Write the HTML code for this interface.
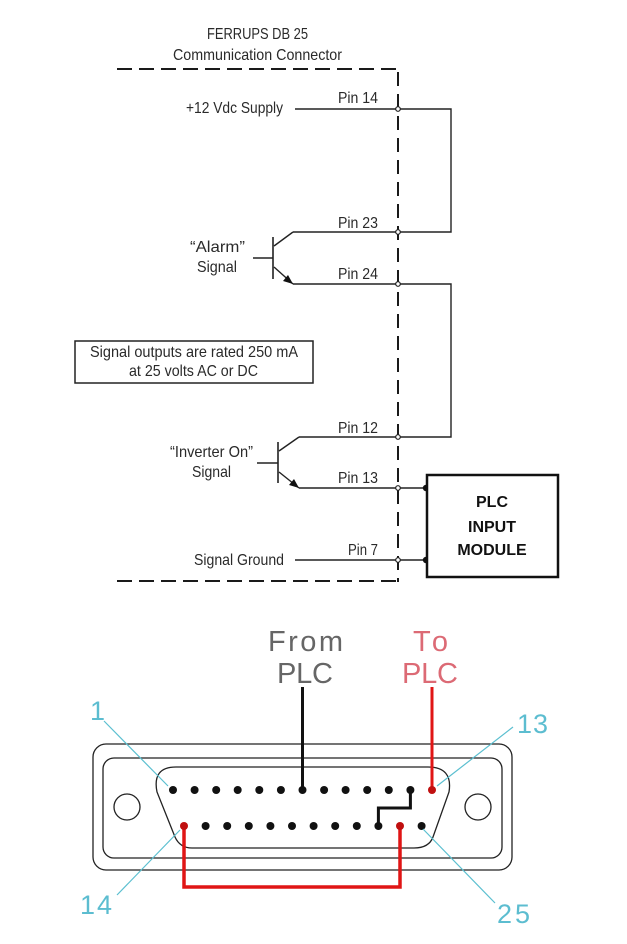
<!DOCTYPE html>
<html><head><meta charset="utf-8"><style>
html,body{margin:0;padding:0;background:#fff;}
svg{display:block;}
.t{font-family:"Liberation Sans",sans-serif;font-size:16px;fill:#2a2a2a;}
.b{font-family:"Liberation Sans",sans-serif;font-size:16px;font-weight:bold;fill:#111;}
.c{font-family:"Liberation Sans",sans-serif;font-size:27px;fill:#5cbdd0;}
.f{font-family:"Liberation Sans",sans-serif;font-size:29px;}
</style></head><body>
<svg width="627" height="944" viewBox="0 0 627 944" xmlns="http://www.w3.org/2000/svg">
<rect width="627" height="944" fill="#fff"/>
<!-- titles -->
<text class="t" x="207" y="39" textLength="101" lengthAdjust="spacingAndGlyphs">FERRUPS DB 25</text>
<text class="t" x="173" y="60" textLength="169" lengthAdjust="spacingAndGlyphs">Communication Connector</text>
<!-- dashed boundary -->
<g stroke="#1a1a1a" stroke-width="2" fill="none">
<line x1="117" y1="69" x2="396" y2="69" stroke-dasharray="15 7"/>
<line x1="117" y1="581" x2="396" y2="581" stroke-dasharray="15 7"/>
<line x1="398" y1="72" x2="398" y2="582" stroke-dasharray="14 8"/>
</g>
<!-- wires -->
<g stroke="#222" stroke-width="1.4" fill="none">
<polyline points="295,109 451,109 451,232 293,232"/>
<polyline points="293,284 451,284 451,437 299,437"/>
<line x1="299" y1="488" x2="426" y2="488"/>
<line x1="295" y1="560" x2="426" y2="560"/>
<!-- transistor 1 -->
<line x1="273" y1="237" x2="273" y2="279" stroke-width="1.6"/>
<line x1="253" y1="258" x2="273" y2="258"/>
<line x1="274" y1="246" x2="293" y2="232"/>
<line x1="274" y1="267" x2="293" y2="284"/>
<!-- transistor 2 -->
<line x1="278" y1="442" x2="278" y2="483" stroke-width="1.6"/>
<line x1="257" y1="463" x2="278" y2="463"/>
<line x1="279" y1="451" x2="299" y2="437"/>
<line x1="279" y1="472" x2="299" y2="488"/>
</g>
<polygon points="293,284 283,281 288,275" fill="#111"/>
<polygon points="299,488 289,485 294,479" fill="#111"/>
<!-- junction circles -->
<g fill="#fff" stroke="#222" stroke-width="1.2">
<circle cx="398" cy="109" r="2.3"/>
<circle cx="398" cy="232" r="2.3"/>
<circle cx="398" cy="284" r="2.3"/>
<circle cx="398" cy="437" r="2.3"/>
<circle cx="398" cy="488" r="2.3"/>
<circle cx="398" cy="560" r="2.3"/>
</g>
<circle cx="426" cy="488" r="3.2" fill="#111"/>
<circle cx="426" cy="560" r="3.2" fill="#111"/>
<!-- labels -->
<text class="t" x="186" y="113" textLength="97" lengthAdjust="spacingAndGlyphs">+12 Vdc Supply</text>
<text class="t" x="338" y="103" textLength="40" lengthAdjust="spacingAndGlyphs">Pin 14</text>
<text class="t" x="338" y="228" textLength="40" lengthAdjust="spacingAndGlyphs">Pin 23</text>
<text class="t" x="338" y="279" textLength="40" lengthAdjust="spacingAndGlyphs">Pin 24</text>
<text class="t" x="190" y="252" textLength="55" lengthAdjust="spacingAndGlyphs">“Alarm”</text>
<text class="t" x="197" y="272" textLength="40" lengthAdjust="spacingAndGlyphs">Signal</text>
<rect x="75" y="341" width="238" height="42" fill="none" stroke="#222" stroke-width="1.5"/>
<text class="t" x="90" y="357" textLength="208" lengthAdjust="spacingAndGlyphs">Signal outputs are rated 250 mA</text>
<text class="t" x="129" y="376" textLength="129" lengthAdjust="spacingAndGlyphs">at 25 volts AC or DC</text>
<text class="t" x="338" y="433" textLength="40" lengthAdjust="spacingAndGlyphs">Pin 12</text>
<text class="t" x="170" y="457" textLength="83" lengthAdjust="spacingAndGlyphs">“Inverter On”</text>
<text class="t" x="192" y="477" textLength="39" lengthAdjust="spacingAndGlyphs">Signal</text>
<text class="t" x="338" y="483" textLength="40" lengthAdjust="spacingAndGlyphs">Pin 13</text>
<text class="t" x="348" y="555" textLength="30" lengthAdjust="spacingAndGlyphs">Pin 7</text>
<text class="t" x="194" y="565" textLength="90" lengthAdjust="spacingAndGlyphs">Signal Ground</text>
<!-- PLC box -->
<rect x="427" y="475" width="131" height="102" fill="#fff" stroke="#111" stroke-width="2.5"/>
<text class="b" x="492" y="507" text-anchor="middle">PLC</text>
<text class="b" x="492" y="532" text-anchor="middle">INPUT</text>
<text class="b" x="492" y="555" text-anchor="middle">MODULE</text>

<!-- DB25 connector -->
<text class="f" x="268" y="651" fill="#666" textLength="75" lengthAdjust="spacing">From</text>
<text class="f" x="277" y="683" fill="#666" textLength="56" lengthAdjust="spacing">PLC</text>
<text class="f" x="413" y="651" fill="#dc6a75" textLength="35" lengthAdjust="spacing">To</text>
<text class="f" x="402" y="683" fill="#dc6a75" textLength="56" lengthAdjust="spacing">PLC</text>
<g fill="none" stroke="#222" stroke-width="1.3">
<rect x="93" y="744" width="419" height="126" rx="13"/>
<rect x="103" y="758" width="399" height="100" rx="11"/>
<path d="M176 767 L428 767 Q453 767 449 792 L433 837 Q429 848 414 848 L192 848 Q180 848 175 837 L157 792 Q152 767 176 767 Z"/>
<circle cx="127" cy="807" r="13"/>
<circle cx="478" cy="807" r="13"/>
</g>
<line x1="302.5" y1="687" x2="302.5" y2="790" stroke="#111" stroke-width="3"/>
<line x1="432" y1="687" x2="432" y2="790" stroke="#e01515" stroke-width="3"/>
<polyline points="410.4,790 410.4,808 378.4,808 378.4,826" fill="none" stroke="#111" stroke-width="3"/>
<polyline points="184,826 184,887 400,887 400,826" fill="none" stroke="#e01515" stroke-width="3.5"/>
<g fill="#111">
<circle cx="173" cy="790" r="4"/><circle cx="194.6" cy="790" r="4"/><circle cx="216.2" cy="790" r="4"/><circle cx="237.7" cy="790" r="4"/><circle cx="259.3" cy="790" r="4"/><circle cx="280.9" cy="790" r="4"/><circle cx="302.5" cy="790" r="4"/><circle cx="324.1" cy="790" r="4"/><circle cx="345.6" cy="790" r="4"/><circle cx="367.2" cy="790" r="4"/><circle cx="388.8" cy="790" r="4"/><circle cx="410.4" cy="790" r="4"/>
<circle cx="205.6" cy="826" r="4"/><circle cx="227.2" cy="826" r="4"/><circle cx="248.8" cy="826" r="4"/><circle cx="270.4" cy="826" r="4"/><circle cx="292" cy="826" r="4"/><circle cx="313.6" cy="826" r="4"/><circle cx="335.2" cy="826" r="4"/><circle cx="356.8" cy="826" r="4"/><circle cx="378.4" cy="826" r="4"/><circle cx="421.6" cy="826" r="4"/>
</g>
<circle cx="432" cy="790" r="4" fill="#c01010"/>
<circle cx="184" cy="826" r="4" fill="#c01010"/>
<circle cx="400" cy="826" r="4" fill="#c01010"/>
<!-- cyan leaders -->
<g stroke="#5bbfd0" stroke-width="1.2">
<line x1="104" y1="721" x2="168" y2="786"/>
<line x1="513" y1="727" x2="437" y2="786"/>
<line x1="117" y1="895" x2="180" y2="830"/>
<line x1="423" y1="829" x2="495" y2="903"/>
</g>
<text class="c" x="90" y="720">1</text>
<text class="c" x="517" y="733" textLength="31" lengthAdjust="spacing">13</text>
<text class="c" x="80" y="914" textLength="32" lengthAdjust="spacing">14</text>
<text class="c" x="497" y="923" textLength="33" lengthAdjust="spacing">25</text>
</svg>
</body></html>
